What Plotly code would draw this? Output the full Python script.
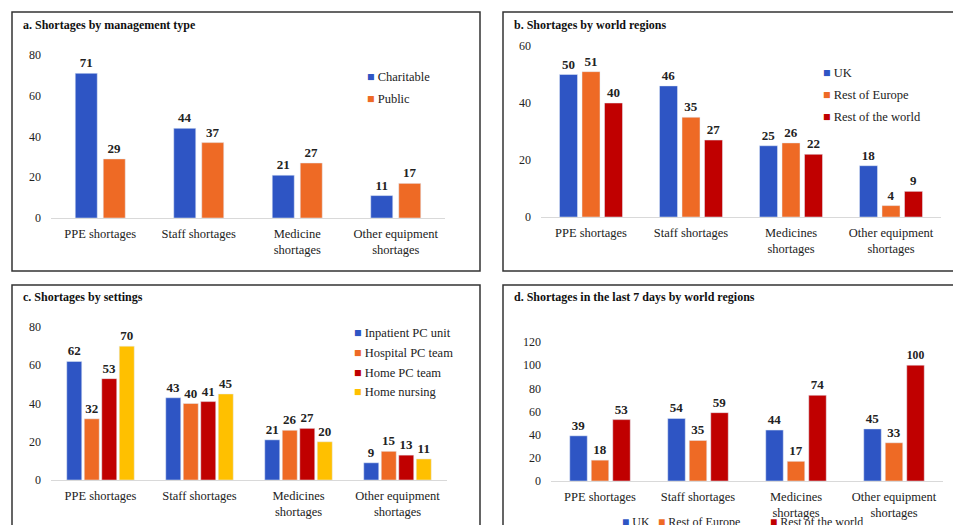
import plotly.graph_objects as go

# categories shared by all four panels
categories = ["PPE shortages", "Staff shortages", "Medicine<br>shortages", "Other equipment<br>shortages"]
categories_med = ["PPE shortages", "Staff shortages", "Medicines<br>shortages", "Other equipment<br>shortages"]

# a. management type
mgmt_names = ["Charitable", "Public"]
charitable = [71, 44, 21, 11]
public = [29, 37, 27, 17]

# b. world regions
region_names = ["UK", "Rest of Europe", "Rest of the world"]
uk = [50, 46, 25, 18]
rest_europe = [51, 35, 26, 4]
rest_world = [40, 27, 22, 9]

# c. settings
setting_names = ["Inpatient PC unit", "Hospital PC team", "Home PC team", "Home nursing"]
inpatient = [62, 43, 21, 9]
hospital = [32, 40, 26, 15]
home_pc = [53, 41, 27, 13]
home_nursing = [70, 45, 20, 11]

# d. last 7 days by world regions
uk_7d = [39, 54, 44, 45]
rest_europe_7d = [18, 35, 17, 33]
rest_world_7d = [53, 59, 74, 100]

colors = {
    "blue": "#2E55C4",
    "orange": "#EE6A25",
    "red": "#C00000",
    "yellow": "#FFC000",
    "text": "#222222",
}

FONT = "Liberation Serif"
W, H = 953, 525


def px(x):
    return x / W


def py(y):
    return 1 - y / H


fig = go.Figure()


def add_panel(idx, cats, series, names, cols, cat_px, bar_px, gap_px):
    n = len(series)
    bw = bar_px / cat_px
    gd = gap_px / cat_px
    group = n * bw + (n - 1) * gd
    suffix = "" if idx == 1 else str(idx)
    for i, (vals, name, col) in enumerate(zip(series, names, cols)):
        fig.add_trace(go.Bar(
            x=cats, y=vals, name=name, marker_color=col,
            width=bw, offset=-group / 2 + i * (bw + gd),
            text=vals, textposition="outside", cliponaxis=False,
            textfont=dict(family=FONT, size=13, color=colors["text"], weight="bold"),
            xaxis="x" + suffix, yaxis="y" + suffix, showlegend=False,
        ))


add_panel(1, categories, [charitable, public], mgmt_names,
          [colors["blue"], colors["orange"]], 98.5, 22, 6)
add_panel(2, categories_med, [uk, rest_europe, rest_world], region_names,
          [colors["blue"], colors["orange"], colors["red"]], 100, 18, 4.5)
add_panel(3, categories_med, [inpatient, hospital, home_pc, home_nursing], setting_names,
          [colors["blue"], colors["orange"], colors["red"], colors["yellow"]], 99, 15, 2.5)
add_panel(4, categories_med, [uk_7d, rest_europe_7d, rest_world_7d], region_names,
          [colors["blue"], colors["orange"], colors["red"]], 98, 17.5, 4)

# axes: (x0, x1, y_zero, y_top, ymax) in pixels
panels = {
    1: (51, 445, 218, 55, 80),
    2: (541, 941, 217, 46, 60),
    3: (51, 447, 480, 327, 80),
    4: (551, 943, 481, 342, 120),
}
layout_axes = {}
for idx, (x0, x1, y0, y1, ymax) in panels.items():
    s = "" if idx == 1 else str(idx)
    layout_axes["xaxis" + s] = dict(
        domain=[px(x0), px(x1)], anchor="y" + s, showgrid=False, automargin=False,
        showline=True, linecolor="#d9d9d9", linewidth=1, ticks="",
        ticklabelstandoff=4, tickfont=dict(family=FONT, size=12.5, color=colors["text"]),
        fixedrange=True,
    )
    layout_axes["yaxis" + s] = dict(
        domain=[py(y0), py(y1)], anchor="x" + s, range=[0, ymax], dtick=20, automargin=False,
        showgrid=False, zeroline=False, showline=False, ticks="",
        ticklabelstandoff=9, tickfont=dict(family=FONT, size=12, color=colors["text"]),
        fixedrange=True,
    )

# panel borders
boxes = [(12, 12, 480, 271), (503, 12, 960, 271), (12, 285, 480, 540), (503, 285, 960, 540)]
shapes = [dict(type="rect", xref="paper", yref="paper",
               x0=px(a), x1=px(c), y0=py(d), y1=py(b),
               line=dict(color="#333333", width=1.5))
          for a, b, c, d in boxes]

annotations = []
titles = [
    ("a. Shortages by management type", 21, 25),
    ("b. Shortages by world regions", 512, 25),
    ("c. Shortages by settings", 21, 297),
    ("d. Shortages in the last 7 days by world regions", 512, 297),
]
for t, x, y in titles:
    annotations.append(dict(text="<b>" + t + "</b>", x=px(x), y=py(y), xref="paper", yref="paper",
                            xanchor="left", yanchor="middle", showarrow=False,
                            font=dict(family=FONT, size=12, color="#111111")))


def legend_item(name, col, x, y, size=12.5):
    annotations.append(dict(
        text=f'<span style="color:{col}">■</span> {name}', x=px(x), y=py(y),
        xref="paper", yref="paper", xanchor="left", yanchor="middle", showarrow=False,
        font=dict(family=FONT, size=size, color=colors["text"])))


for name, col, y in zip(mgmt_names, [colors["blue"], colors["orange"]], [77, 99]):
    legend_item(name, col, 365, y)
for name, col, y in zip(region_names, [colors["blue"], colors["orange"], colors["red"]], [73, 95, 117]):
    legend_item(name, col, 821, y)
for name, col, y in zip(setting_names, [colors["blue"], colors["orange"], colors["red"], colors["yellow"]],
                        [333, 353, 373, 392]):
    legend_item(name, col, 352, y)
# panel d legend sits at the bottom edge, partly cut off as in the original
for name, col, x in zip(region_names, [colors["blue"], colors["orange"], colors["red"]], [620, 656, 768]):
    legend_item(name, col, x, 522, size=12)

fig.update_layout(
    width=W, height=H, margin=dict(l=0, r=0, t=0, b=0, autoexpand=False),
    paper_bgcolor="white", plot_bgcolor="white",
    barmode="overlay", showlegend=False,
    font=dict(family=FONT, color=colors["text"]),
    shapes=shapes, annotations=annotations, **layout_axes,
)

# drop the default page margin so the figure sits at the window's top-left corner
fig.write_html("out.html", config={"displayModeBar": False},
               post_script="document.body.style.margin='0';document.body.style.overflow='hidden';")
